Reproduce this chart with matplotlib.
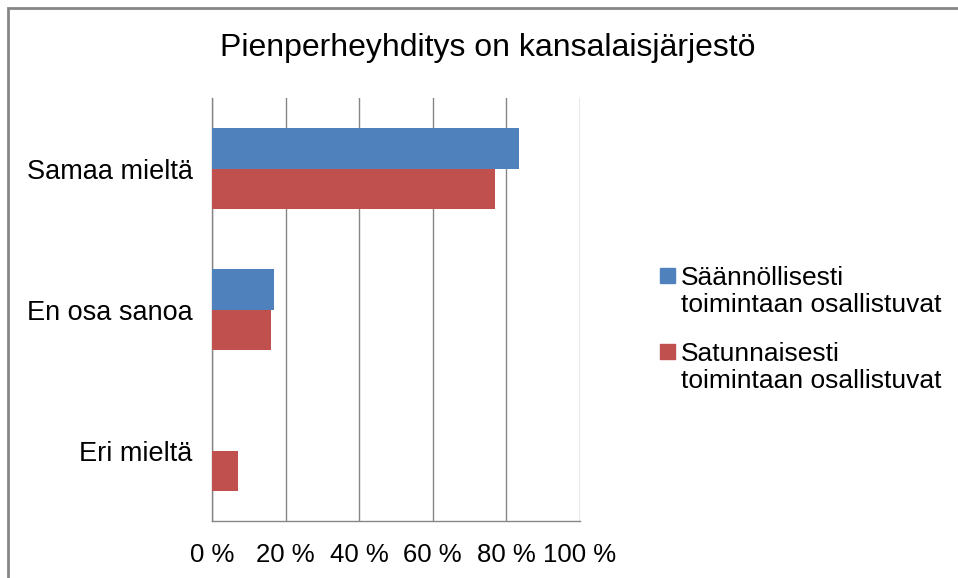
import numpy as np
import matplotlib.pyplot as plt
from matplotlib.patches import Rectangle

plt.rcParams['font.family'] = ['Liberation Sans', 'DejaVu Sans']

# data (percent)
categories = ['Samaa mieltä', 'En osa sanoa', 'Eri mieltä']
regular = [83.4, 16.8, 0.0]
occasional = [76.8, 16.1, 7.0]
series_names = ['Säännöllisesti\ntoimintaan osallistuvat',
                'Satunnaisesti\ntoimintaan osallistuvat']
colors = ['#4F81BD', '#C0504D']
grid_col = '#868686'

W, H = 958, 578
fig = plt.figure(figsize=(W / 100, H / 100), dpi=100)
ax = fig.add_axes([212 / W, 1 - 521 / H, 368 / W, 423 / H])

y = np.arange(len(categories))
h = 0.284
ax.barh(y - h / 2, regular, height=h, color=colors[0], zorder=3)
ax.barh(y + h / 2, occasional, height=h, color=colors[1], zorder=3)

ax.set_xlim(0, 100)
ax.set_ylim(2.5, -0.5)
ax.set_xticks(range(0, 101, 20))
ax.set_xticklabels([f'{v} %' for v in range(0, 101, 20)], fontsize=18.5)
ax.set_yticks(y)
ax.set_yticklabels(categories, fontsize=19.5)
ax.tick_params(length=0)
ax.tick_params(axis='y', pad=14)
ax.tick_params(axis='x', pad=16)
ax.grid(axis='x', color=grid_col, lw=1, zorder=0)
for s in ['top', 'right']:
    ax.spines[s].set_visible(False)
for s in ['left', 'bottom']:
    ax.spines[s].set_color(grid_col)
    ax.spines[s].set_linewidth(1)

fig.text(488 / W, 1 - 48 / H, 'Pienperheyhditys on kansalaisjärjestö',
         ha='center', va='center', fontsize=23)

# legend: square marker next to the first line of each two-line label
for i, (name, col) in enumerate(zip(series_names, colors)):
    top = 268 + i * 76
    fig.add_artist(Rectangle((660 / W, 1 - (top + 15) / H), 15 / W, 15 / H,
                             transform=fig.transFigure, color=col))
    fig.text(681 / W, 1 - (top - 2) / H, name, ha='left', va='top',
             fontsize=19, linespacing=1.17)

# outer chart frame
fig.add_artist(Rectangle((8 / W, -0.1), 1.2, 1.1 - 8 / H, transform=fig.transFigure,
                         fill=False, edgecolor=grid_col, lw=2))

fig.savefig('out.png', dpi=100)
